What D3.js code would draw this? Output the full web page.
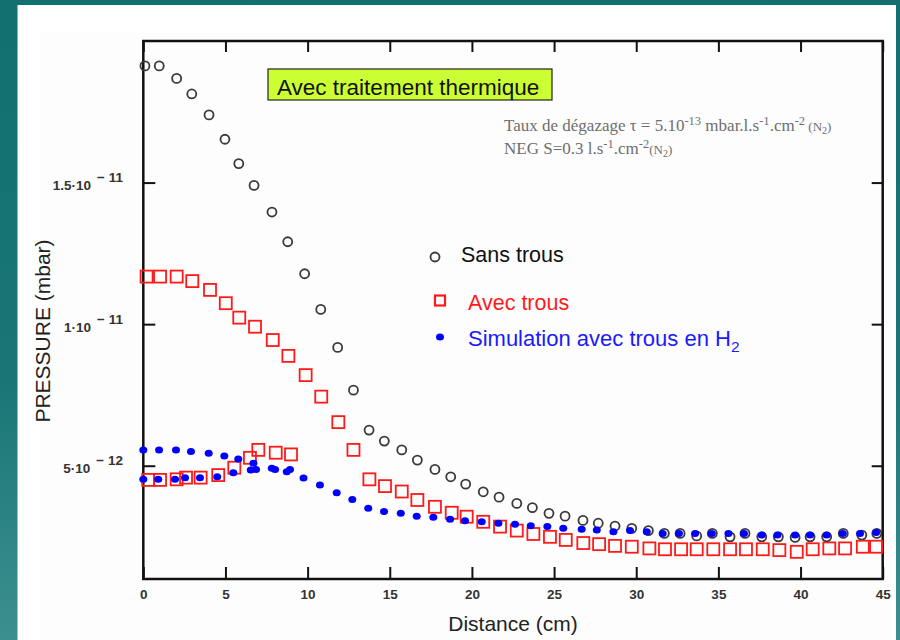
<!DOCTYPE html>
<html>
<head>
<meta charset="utf-8">
<script src="https://cdn.jsdelivr.net/npm/d3@7"></script>
<style>
  html, body { margin: 0; padding: 0; background: #137171; }
  svg { display: block; }
</style>
</head>
<body>
<svg id="chart" width="900" height="640"></svg>
<script>
// ---------------- DATA ----------------
// Distance (cm) and pressure (in units of 1e-12 mbar)
const sansTrousX = [0.1,0.97,2.03,2.95,4.0,4.97,5.81,6.74,7.83,8.79,9.82,10.8,11.83,12.79,13.74,14.67,15.73,16.68,17.75,18.71,19.62,20.69,21.65,22.73,23.68,24.69,25.67,26.76,27.69,28.71,29.73,30.74,31.71,32.67,33.68,34.63,35.71,36.62,37.64,38.65,39.67,40.58,41.59,42.6,43.73,44.64];
const sansTrousY = [19.12,19.12,18.68,18.13,17.39,16.53,15.67,14.9,13.96,12.91,11.78,10.52,9.18,7.67,6.26,5.87,5.56,5.2,4.87,4.61,4.35,4.08,3.89,3.67,3.52,3.32,3.22,3.07,2.97,2.87,2.79,2.71,2.61,2.61,2.52,2.61,2.49,2.61,2.49,2.49,2.47,2.49,2.49,2.61,2.55,2.61];

const avecTrousX = [0.2,1.02,2.03,2.98,4.06,5.02,5.84,6.8,7.88,8.83,9.88,10.83,11.87,12.79,13.76,14.71,15.73,16.68,17.75,18.77,19.68,20.69,21.71,22.73,23.74,24.75,25.71,26.78,27.74,28.71,29.73,30.8,31.75,32.73,33.68,34.69,35.71,36.68,37.7,38.71,39.77,40.74,41.75,42.71,43.79,44.6,
                    0.3,1.02,2.03,2.6,3.49,4.56,5.54,6.49,7.0,8.06,8.99];
const avecTrousY = [11.68,11.68,11.68,11.52,11.21,10.74,10.23,9.91,9.44,8.88,8.2,7.44,6.54,5.56,4.52,4.28,4.09,3.79,3.55,3.34,3.2,3.02,2.85,2.71,2.59,2.49,2.38,2.27,2.23,2.17,2.14,2.08,2.05,2.05,2.05,2.05,2.05,2.05,2.05,2.02,1.96,2.05,2.08,2.08,2.14,2.14,
                    4.5,4.5,4.52,4.58,4.58,4.67,4.93,5.28,5.56,5.46,5.4];

const simX = [0,0.96,1.99,2.9,3.98,4.93,5.78,6.7,6.86,7.82,8.02,8.73,8.93,9.75,10.75,11.77,12.72,13.69,14.65,15.67,16.64,17.65,18.67,19.58,20.6,21.61,22.62,23.58,24.59,25.56,26.68,27.6,28.61,29.62,30.64,31.61,32.6,33.58,34.6,35.61,36.56,37.64,38.59,39.67,40.58,41.59,42.57,43.62,44.6,
              0,0.91,1.93,2.54,3.45,4.5,5.48,6.54];
const simY = [5.56,5.56,5.56,5.5,5.44,5.34,5.24,5.09,4.87,4.91,4.87,4.79,4.87,4.57,4.32,4.05,3.81,3.5,3.38,3.32,3.22,3.18,3.11,3.06,3.02,2.97,2.93,2.88,2.85,2.79,2.76,2.73,2.67,2.71,2.67,2.61,2.61,2.61,2.61,2.61,2.61,2.55,2.55,2.55,2.55,2.55,2.61,2.61,2.64,
              4.52,4.52,4.52,4.58,4.58,4.61,4.75,4.85];

const xTickValues = [0,5,10,15,20,25,30,35,40,45];
const yTickValues = [5,10,15];
const yTickMantissa = ["5·10","1·10","1.5·10"];
const yTickExponent = ["− 12","− 11","− 11"];

const legendLabels = ["Sans trous","Avec trous","Simulation avec trous en H"];

// ---------------- DRAW ----------------
const svg = d3.select("#chart");
const defs = svg.append("defs");
const grad = defs.append("linearGradient").attr("id","teal").attr("x1",0).attr("y1",0).attr("x2",0).attr("y2",1);
grad.append("stop").attr("offset","0%").attr("stop-color","#127070");
grad.append("stop").attr("offset","60%").attr("stop-color","#1a7676");
grad.append("stop").attr("offset","100%").attr("stop-color","#3d8f8f");

svg.append("rect").attr("width",900).attr("height",640).attr("fill","url(#teal)");
svg.append("rect").attr("x",17.5).attr("y",5).attr("width",878.5).attr("height",640).attr("fill","#ffffff");
svg.append("rect").attr("x",40).attr("y",33).attr("width",852).attr("height",607).attr("fill","#fdfdfd");

const x = d3.scaleLinear().domain([0,45]).range([143.3,882.7]);
const y = d3.scaleLinear().domain([1,20]).range([579,41]);

const tickFont = "'Liberation Sans', Arial, sans-serif";

// Bottom axis
const gx = svg.append("g").attr("transform",`translate(0,${y(1)})`)
  .call(d3.axisBottom(x).tickValues(xTickValues).tickSizeInner(-12).tickSizeOuter(0).tickPadding(10).tickFormat(d3.format("d")));
gx.select(".domain").remove();
gx.selectAll(".tick line").attr("stroke","#111").attr("stroke-width",2);
gx.selectAll(".tick text").attr("font-family",tickFont).attr("font-size",13.5).attr("font-weight","bold").attr("fill","#333");

// Top axis
const gt = svg.append("g").attr("transform",`translate(0,${y(20)})`)
  .call(d3.axisTop(x).tickValues(xTickValues).tickSizeInner(-11).tickSizeOuter(0).tickFormat(""));
gt.select(".domain").remove();
gt.selectAll(".tick line").attr("stroke","#111").attr("stroke-width",2);

// Left axis
const gl = svg.append("g").attr("transform",`translate(${x(0)},0)`)
  .call(d3.axisLeft(y).tickValues(yTickValues).tickSizeInner(-12).tickSizeOuter(0).tickFormat(""));
gl.select(".domain").remove();
gl.selectAll(".tick line").attr("stroke","#111").attr("stroke-width",2);

// Right axis
const gr = svg.append("g").attr("transform",`translate(${x(45)},0)`)
  .call(d3.axisRight(y).tickValues(yTickValues).tickSizeInner(-11).tickSizeOuter(0).tickFormat(""));
gr.select(".domain").remove();
gr.selectAll(".tick line").attr("stroke","#111").attr("stroke-width",2);

// Y tick labels with superscript exponents
yTickValues.forEach((v,i) => {
  const t = svg.append("text")
    .attr("x",123).attr("y",y(v)+7.5)
    .attr("text-anchor","end")
    .attr("font-family",tickFont).attr("font-size",13.5).attr("font-weight","bold").attr("fill","#333");
  t.append("tspan").text(yTickMantissa[i]);
  t.append("tspan").attr("dx",6).attr("dy",-8).text(yTickExponent[i]);
});

// Frame
svg.append("rect")
  .attr("x",x(0)).attr("y",y(20)).attr("width",x(45)-x(0)).attr("height",y(1)-y(20))
  .attr("fill","none").attr("stroke","#111").attr("stroke-width",2.5);

// Axis titles
svg.append("text").attr("x",513).attr("y",631).attr("text-anchor","middle")
  .attr("font-family","'Liberation Sans', Arial, sans-serif").attr("font-size",21).attr("fill","#222")
  .text("Distance (cm)");
svg.append("text").attr("transform","translate(50,331) rotate(-90)").attr("text-anchor","middle")
  .attr("font-family","'Liberation Sans', Arial, sans-serif").attr("font-size",21).attr("fill","#222")
  .text("PRESSURE (mbar)");

// Series
const plot = svg.append("g");
plot.selectAll("circle.sans").data(sansTrousX.map((d,i)=>[d,sansTrousY[i]])).join("circle")
  .attr("class","sans").attr("cx",d=>x(d[0])).attr("cy",d=>y(d[1])).attr("r",4.5)
  .attr("fill","none").attr("stroke","#3a3a3a").attr("stroke-width",1.8);

const sq = 12;
plot.selectAll("rect.avec").data(avecTrousX.map((d,i)=>[d,avecTrousY[i]])).join("rect")
  .attr("class","avec").attr("x",d=>x(d[0])-sq/2).attr("y",d=>y(d[1])-sq/2).attr("width",sq).attr("height",sq)
  .attr("fill","none").attr("stroke","#ff1a1a").attr("stroke-width",1.8);

plot.selectAll("ellipse.sim").data(simX.map((d,i)=>[d,simY[i]])).join("ellipse")
  .attr("class","sim").attr("cx",d=>x(d[0])).attr("cy",d=>y(d[1])).attr("rx",4).attr("ry",3.5)
  .attr("fill","#0000ff");

// Title box
svg.append("rect").attr("x",268).attr("y",69).attr("width",284).attr("height",31)
  .attr("fill","#ccff33").attr("stroke","#222").attr("stroke-width",1.2);
svg.append("text").attr("x",277).attr("y",94.5)
  .attr("font-family","'Liberation Sans', Arial, sans-serif").attr("font-size",22.5).attr("fill","#111")
  .text("Avec traitement thermique");

// Gray annotation
const serif = "'Liberation Serif', 'Times New Roman', serif";
const a1 = svg.append("text").attr("x",504).attr("y",131).attr("font-family",serif).attr("font-size",17).attr("fill","#6e6e6e");
a1.append("tspan").text("Taux de dégazage τ = 5.10");
a1.append("tspan").attr("dy",-6).attr("font-size",12.5).text("-13");
a1.append("tspan").attr("dy",6).text(" mbar.l.s");
a1.append("tspan").attr("dy",-6).attr("font-size",12.5).text("-1");
a1.append("tspan").attr("dy",6).text(".cm");
a1.append("tspan").attr("dy",-6).attr("font-size",12.5).text("-2");
a1.append("tspan").attr("dy",6).attr("font-size",13).text(" (N");
a1.append("tspan").attr("dy",3).attr("font-size",10).text("2");
a1.append("tspan").attr("dy",-3).attr("font-size",13).text(")");

const a2 = svg.append("text").attr("x",504).attr("y",154).attr("font-family",serif).attr("font-size",17).attr("fill","#6e6e6e");
a2.append("tspan").text("NEG S=0.3 l.s");
a2.append("tspan").attr("dy",-6).attr("font-size",12.5).text("-1");
a2.append("tspan").attr("dy",6).text(".cm");
a2.append("tspan").attr("dy",-6).attr("font-size",12.5).text("-2");
a2.append("tspan").attr("dy",6).attr("font-size",13).text("(N");
a2.append("tspan").attr("dy",3).attr("font-size",10).text("2");
a2.append("tspan").attr("dy",-3).attr("font-size",13).text(")");

// Legend
const lf = "'Liberation Sans', Arial, sans-serif";
svg.append("circle").attr("cx",435).attr("cy",257).attr("r",4.5).attr("fill","none").attr("stroke","#3a3a3a").attr("stroke-width",1.8);
svg.append("text").attr("x",461).attr("y",262).attr("font-family",lf).attr("font-size",21.5).attr("fill","#111").text(legendLabels[0]);

svg.append("rect").attr("x",435).attr("y",295.5).attr("width",10).attr("height",10).attr("fill","none").attr("stroke","#ff1a1a").attr("stroke-width",2.2);
svg.append("text").attr("x",468).attr("y",310).attr("font-family",lf).attr("font-size",21.5).attr("fill","#ff1a1a").text(legendLabels[1]);

svg.append("ellipse").attr("cx",440).attr("cy",337).attr("rx",4).attr("ry",3.5).attr("fill","#0000ff");
const l3 = svg.append("text").attr("x",468).attr("y",346).attr("font-family",lf).attr("font-size",22).attr("fill","#1a1aff");
l3.append("tspan").text(legendLabels[2]);
l3.append("tspan").attr("dy",6).attr("font-size",15.5).text("2");
</script>
</body>
</html>
